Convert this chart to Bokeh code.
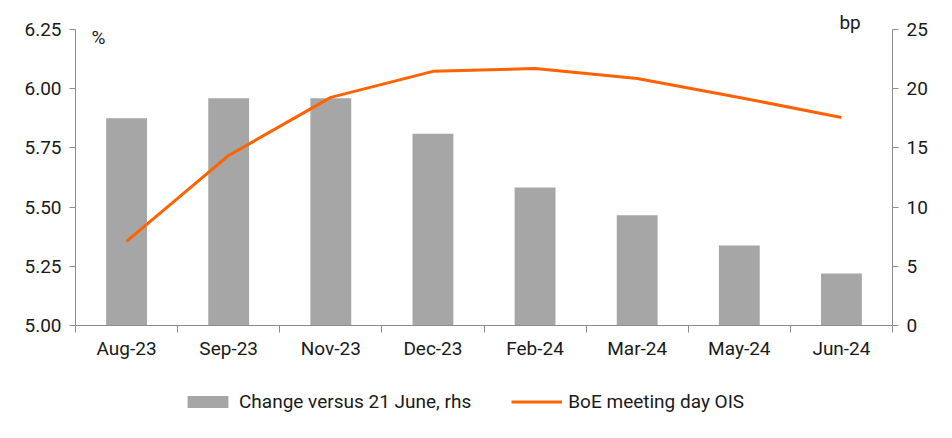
from bokeh.plotting import figure
from bokeh.layouts import column
from bokeh.models import (Range1d, LinearAxis, FixedTicker, Legend, LegendItem,
                          Label, ColumnDataSource)
from bokeh.embed import file_html
from bokeh.resources import INLINE

# ---- data ----
months = ["Aug-23", "Sep-23", "Nov-23", "Dec-23", "Feb-24", "Mar-24", "May-24", "Jun-24"]
change_bp = [17.5, 19.2, 19.2, 16.2, 11.65, 9.3, 6.75, 4.4]          # rhs, bp
ois_pct = [5.355, 5.718, 5.963, 6.073, 6.085, 6.043, 5.963, 5.878]    # lhs, %
left_ticks = [5.00, 5.25, 5.50, 5.75, 6.00, 6.25]
right_ticks = [0, 5, 10, 15, 20, 25]
series_names = ["Change versus 21 June, rhs", "BoE meeting day OIS"]

FONT = "Roboto"
TXT = "#1a1a1a"
AXC = "#8c8c8c"
ORANGE = "#FF6200"
GREY = "#A6A6A6"

xpos = [i + 0.5 for i in range(len(months))]
src = ColumnDataSource(dict(x=xpos, change=change_bp, ois=ois_pct))

p = figure(width=936, height=370, output_backend="svg", toolbar_location=None,
           x_range=Range1d(0, len(months)), y_range=Range1d(5.0, 6.33),
           min_border_left=75, min_border_right=44, min_border_top=10, min_border_bottom=45)
p.outline_line_color = None
p.xgrid.visible = False
p.ygrid.visible = False

p.extra_y_ranges = {"bp": Range1d(0, 26.6)}

bars = p.vbar(x="x", top="change", width=0.4, source=src, y_range_name="bp",
              fill_color=GREY, line_color=None)
line = p.line(x="x", y="ois", source=src, line_color=ORANGE, line_width=3)

# x axis
xa = p.xaxis[0]
xa.ticker = FixedTicker(ticks=xpos, minor_ticks=list(range(len(months) + 1)))
xa.major_label_overrides = {x: m for x, m in zip(xpos, months)}
xa.major_tick_out = 0
xa.major_tick_in = 0
xa.minor_tick_out = 7
xa.minor_tick_in = 0
xa.axis_line_color = AXC
xa.minor_tick_line_color = AXC
xa.major_label_text_font = FONT
xa.major_label_text_font_size = "19px"
xa.major_label_text_color = TXT
xa.major_label_standoff = 4

# left axis
ya = p.yaxis[0]
ya.bounds = (5.0, 6.25)
ya.ticker = FixedTicker(ticks=left_ticks)
ya.major_label_overrides = {t: f"{t:.2f}" for t in left_ticks}
ya.major_tick_out = 6
ya.major_tick_in = 0
ya.minor_tick_line_color = None
ya.axis_line_color = AXC
ya.major_tick_line_color = AXC
ya.major_label_text_font = FONT
ya.major_label_text_font_size = "19px"
ya.major_label_text_color = TXT
ya.major_label_standoff = 8

# right axis
ra = LinearAxis(y_range_name="bp", bounds=(0, 25), ticker=FixedTicker(ticks=right_ticks))
ra.major_tick_out = 6
ra.major_tick_in = 0
ra.minor_tick_line_color = None
ra.axis_line_color = AXC
ra.major_tick_line_color = AXC
ra.major_label_text_font = FONT
ra.major_label_text_font_size = "19px"
ra.major_label_text_color = TXT
ra.major_label_standoff = 8
p.add_layout(ra, "right")

# unit labels
p.add_layout(Label(x=16, y=6.25, x_units="screen", text="%", text_font=FONT,
                   text_font_size="19px", text_color=TXT, text_baseline="top", y_offset=3))
p.add_layout(Label(x=len(months) - 0.52, y=26.6, y_range_name="bp", text="bp", text_font=FONT,
                   text_font_size="19px", text_color=TXT, text_baseline="top",
                   text_align="left"))

# legend strip (separate figure so it can sit below the axis); its ranges keep the
# proxy glyphs out of view, only their legend swatches show
lp = figure(width=936, height=60, output_backend="svg", toolbar_location=None,
            x_axis_location=None, y_axis_location=None,
            x_range=Range1d(100, 101), y_range=Range1d(100, 101),
            min_border_left=0, min_border_right=0, min_border_top=0, min_border_bottom=0)
lp.xgrid.visible = False
lp.ygrid.visible = False
lp.outline_line_color = None
lbar = lp.vbar(x="x", top="change", width=0.4, source=src, fill_color=GREY, line_color=None)
lline = lp.line(x="x", y="ois", source=src, line_color=ORANGE, line_width=3)

legend = Legend(items=[LegendItem(label=series_names[0], renderers=[lbar]),
                       LegendItem(label=series_names[1], renderers=[lline])],
                orientation="horizontal", location=(107, 17),
                label_text_font=FONT, label_text_font_size="19px", label_text_color=TXT,
                glyph_width=51, glyph_height=15, label_standoff=6, spacing=40,
                border_line_color=None, background_fill_alpha=0, margin=0, padding=4)
lp.add_layout(legend, "center")

open("out.html", "w").write(file_html(column(p, lp, spacing=0), INLINE))
